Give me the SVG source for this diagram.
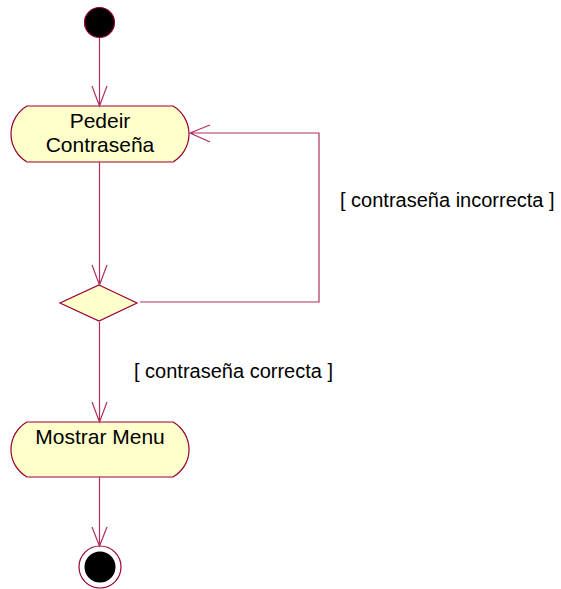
<svg xmlns="http://www.w3.org/2000/svg" width="561" height="589" viewBox="0 0 561 589">
<style>
.node{fill:#FFFFCC;stroke:#990033;stroke-width:1.2}
.edge{fill:none;stroke:#B03060;stroke-width:1.2}
.txt{font-family:"Liberation Sans",Arial,sans-serif;font-size:21px;fill:#000;text-anchor:middle}
.lbl{font-family:"Liberation Sans",Arial,sans-serif;font-size:20px;fill:#000}
</style>
<rect width="561" height="589" fill="#fff"/>
<g id="start"><circle cx="99.5" cy="22.5" r="15" fill="#000" stroke="#990033" stroke-width="1.2"/></g>
<g id="pedeir">
<path class="node" d="M27,106 L173,106 A32.5,32.5 0 0 1 173,162 L27,162 A32.5,32.5 0 0 1 27,106 Z"/>
<text class="txt" x="100" y="128">Pedeir</text>
<text class="txt" x="100" y="152">Contraseña</text>
</g>
<g id="decision"><path class="node" d="M99,285 L137,303 L99,321 L60,303 Z"/></g>
<g id="mostrar">
<path class="node" d="M27,422 L173,422 A31.6,31.6 0 0 1 173,477 L27,477 A31.6,31.6 0 0 1 27,422 Z"/>
<text class="txt" x="100" y="444">Mostrar Menu</text>
</g>
<g id="end">
<circle cx="100" cy="567" r="21" fill="#fff" stroke="#990033" stroke-width="1.2"/>
<circle cx="100" cy="567" r="15.5" fill="#000"/>
</g>
<g id="connectors">
<path class="edge" d="M99.5,38 L99.5,106 M92,86 L99.5,106 L107,86"/>
<path class="edge" d="M99.5,162 L99.5,285 M92,265 L99.5,285 L107,265"/>
<path class="edge" d="M140,302 L319,302 L319,133 L190,133 M210,125 L190,133 L210,142"/>
<text class="lbl" x="340" y="207">[ contraseña incorrecta ]</text>
<path class="edge" d="M99.5,322 L99.5,422 M92,402 L99.5,422 L107,402"/>
<text class="lbl" x="134" y="378">[ contraseña correcta ]</text>
<path class="edge" d="M99.5,477 L99.5,546 M92,527 L99.5,546 L107,527"/>
</g>
</svg>
